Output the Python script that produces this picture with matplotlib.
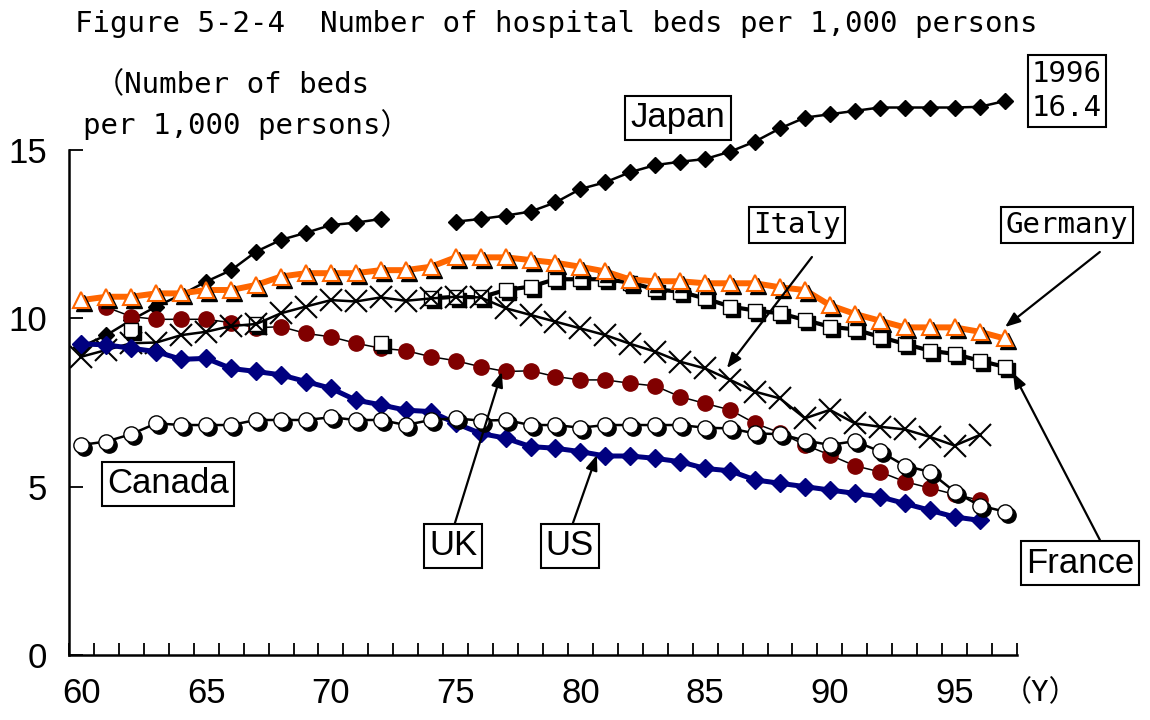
import matplotlib
matplotlib.use("Agg")
import matplotlib.pyplot as plt
import matplotlib.transforms as mtransforms
import numpy as np

# années 1960 -> 1997 (axe par catégories)
years = np.arange(60, 98)

nan = np.nan
japan = [9.16, 9.5, 9.95, 10.35, 10.7, 11.09, 11.43, 11.98, 12.33, 12.54, 12.77, 12.84, 12.95,
         nan, nan,
         12.87, 12.95, 13.05, 13.17, 13.44, 13.84, 14.04, 14.34, 14.55, 14.65, 14.73, 14.95,
         15.25, 15.64, 15.96, 16.06, 16.16, 16.26, 16.26, 16.26, 16.26, 16.28, 16.45]
germany = [10.54, 10.64, 10.64, 10.74, 10.74, 10.84, 10.84, 10.99, 11.24, 11.34, 11.34, 11.34, 11.43,
           11.43, 11.53, 11.81, 11.81, 11.81, 11.73, 11.65, 11.53, 11.39, 11.15, 11.1, 11.1, 11.04,
           11.04, 11.04, 10.92, 10.84, 10.39, 10.13, 9.93, 9.73, 9.73, 9.73, 9.6, 9.4]
france = [nan, nan, 9.65, nan, nan, nan, nan, 9.83, nan, nan, nan, nan, 9.26,
          nan, 10.59, 10.64, 10.62, 10.84, 10.94, 11.16, 11.16, 11.16, 11.06, 10.86, 10.79, 10.59,
          10.35, 10.23, 10.15, 9.95, 9.75, 9.67, 9.45, 9.24, 9.04, 8.94, 8.74, 8.56]
italy = [8.86, 9.06, 9.26, 9.28, 9.5, 9.6, 9.77, 9.83, 10.15, 10.35, 10.54, 10.5, 10.62,
         10.52, 10.59, 10.64, 10.62, 10.3, 10.1, 9.9, 9.7, 9.5, 9.24, 9.01, 8.71, 8.51,
         8.17, 7.82, 7.62, 7.03, 7.28, 6.88, 6.78, 6.7, 6.48, 6.22, 6.53, nan]
uk = [nan, 10.33, 10.05, 9.97, 9.97, 9.97, 9.87, 9.72, 9.75, 9.55, 9.45, 9.26, 9.11,
      9.04, 8.86, 8.74, 8.56, 8.42, 8.44, 8.27, 8.17, 8.17, 8.07, 7.99, 7.67, 7.47,
      7.28, 6.88, 6.6, 6.24, 5.94, 5.62, 5.44, 5.15, 4.96, 4.77, 4.6, nan]
canada = [6.24, 6.34, 6.56, 6.88, 6.83, 6.83, 6.83, 6.98, 6.98, 6.98, 7.06, 6.98, 6.98,
          6.83, 6.98, 7.03, 6.96, 6.98, 6.83, 6.83, 6.75, 6.83, 6.83, 6.83, 6.83, 6.75,
          6.73, 6.58, 6.56, 6.37, 6.24, 6.35, 6.05, 5.62, 5.44, 4.85, 4.44, 4.26]
us = [9.24, 9.21, 9.11, 9.01, 8.78, 8.81, 8.51, 8.42, 8.32, 8.12, 7.92, 7.57, 7.43,
      7.27, 7.23, 6.88, 6.58, 6.44, 6.19, 6.14, 6.04, 5.91, 5.91, 5.84, 5.74, 5.54,
      5.47, 5.2, 5.1, 5.0, 4.9, 4.8, 4.7, 4.5, 4.3, 4.1, 4.0, nan]

x_ticks = [60, 65, 70, 75, 80, 85, 90, 95]
y_ticks = [0, 5, 10, 15]

mono = ['DejaVu Sans Mono', 'Noto Sans CJK JP']
narrow = ['Liberation Sans Narrow', 'Liberation Sans']

fig = plt.figure(figsize=(11.5, 7.2), dpi=100)
ax = fig.add_axes([69 / 1150, 65 / 720, 948 / 1150, 572.4 / 720])
ax.set_xlim(59.5, 97.5)
ax.set_ylim(0, 17)

shadow = mtransforms.offset_copy(ax.transData, fig=fig, x=3, y=-3, units='dots')

# France : points isolés avant 1974, série annuelle ensuite
fr = np.array(france, dtype=float)
fr_early = years < 73
fr_late = years >= 74
fx = years[~np.isnan(fr)]
fy = fr[~np.isnan(fr)]

# Japon
ax.plot(years, japan, color='black', lw=1.8, marker='D', ms=8, mfc='black', mec='black', zorder=2)
# Royaume-Uni
ax.plot(years, uk, color='black', lw=1.1, marker='o', ms=11, mfc='#800000', mec='#800000', zorder=3)
# France
ax.plot(years[fr_late], fr[fr_late], color='black', lw=3, zorder=4)
ax.plot(fx, fy, ls='none', marker='s', ms=10, mfc='black', mec='black', transform=shadow, zorder=4)
ax.plot(fx, fy, ls='none', marker='s', ms=10, mfc='white', mec='black', mew=1, zorder=4)
# Italie
ax.plot(years, italy, color='black', lw=1.8, marker='x', ms=16, mew=1.5, mec='black', zorder=5)
# Etats-Unis
ax.plot(years, us, color='#000080', lw=3.6, marker='D', ms=9, mfc='#000080', mec='#000080', zorder=6)
# Canada
ax.plot(years, canada, color='black', lw=1.8, zorder=7)
ax.plot(years, canada, ls='none', marker='o', ms=11, mfc='black', mec='black', transform=shadow, zorder=7)
ax.plot(years, canada, ls='none', marker='o', ms=11, mfc='white', mec='black', mew=1, zorder=7)
# Allemagne
ax.plot(years, germany, color='#FF6600', lw=4.3, zorder=8)
ax.plot(years, germany, ls='none', marker='^', ms=12, mfc='black', mec='black', transform=shadow, zorder=8)
ax.plot(years, germany, ls='none', marker='^', ms=12, mfc='white', mec='#FF6600', mew=1.5, zorder=8)

# axes
for s in ['top', 'right']:
    ax.spines[s].set_visible(False)
ax.spines['left'].set_bounds(0, 15)
ax.spines['left'].set_linewidth(1.8)
ax.spines['bottom'].set_linewidth(1.8)
ax.set_xticks(x_ticks)
ax.set_xticklabels([str(t) for t in x_ticks], family=narrow, fontsize=25)
ax.set_xticks(np.arange(59.5, 98, 1), minor=True)
ax.tick_params(axis='x', which='major', length=0, pad=16)
ax.tick_params(axis='x', which='minor', direction='in', length=9, width=1.3)
ax.set_yticks(y_ticks)
ax.set_yticklabels([str(t) for t in y_ticks], family=narrow, fontsize=25)
ax.tick_params(axis='y', direction='in', length=10, width=1.3, pad=16)

# titre et libellés
fig.text(75 / 1150, 1 - 24 / 720, 'Figure 5-2-4  Number of hospital beds per 1,000 persons',
         family=mono, fontsize=21, ha='left', va='center')
fig.text(95 / 1150, 1 - 85 / 720, '（Number of beds', family=mono, fontsize=21, ha='left', va='center')
fig.text(83 / 1150, 1 - 125 / 720, 'per 1,000 persons）', family=mono, fontsize=21, ha='left', va='center')
fig.text(1003 / 1150, 1 - 693 / 720, '（Y）', family=mono, fontsize=21, ha='left', va='center')

box = dict(boxstyle='square,pad=0.15', fc='white', ec='black', lw=1.5)
ax.text(83.91, 15.95, 'Japan', family=narrow, fontsize=25, ha='center', va='center', bbox=box, zorder=10)
ax.text(99.5, 16.75, '1996\n16.4', family=mono, fontsize=21, ha='center', va='center',
        linespacing=1.3, bbox=box, zorder=10, clip_on=False)
ax.text(88.68, 12.77, 'Italy', family=mono, fontsize=21, ha='center', va='center', bbox=box, zorder=10)
ax.text(99.5, 12.77, 'Germany', family=mono, fontsize=21, ha='center', va='center', bbox=box,
        zorder=10, clip_on=False)
ax.text(100.02, 2.73, 'France', family=narrow, fontsize=25, ha='center', va='center', bbox=box,
        zorder=10, clip_on=False)
ax.text(63.47, 5.08, 'Canada', family=narrow, fontsize=25, ha='center', va='center', bbox=box, zorder=10)
ax.text(74.89, 3.24, 'UK', family=narrow, fontsize=25, ha='center', va='center', bbox=box, zorder=10)
ax.text(79.58, 3.24, 'US', family=narrow, fontsize=25, ha='center', va='center', bbox=box, zorder=10)

arrow = dict(arrowstyle='-|>,head_length=0.9,head_width=0.35', lw=1.6, color='black',
             shrinkA=0, shrinkB=0)
ax.annotate('', xy=(85.87, 8.52), xytext=(89.28, 11.82), arrowprops=arrow, zorder=11)
ax.annotate('', xy=(97.02, 9.74), xytext=(100.82, 11.97), arrowprops=arrow, zorder=11,
            annotation_clip=False)
ax.annotate('', xy=(97.34, 8.38), xytext=(100.82, 3.42), arrowprops=arrow, zorder=11,
            annotation_clip=False)
ax.annotate('', xy=(76.85, 8.41), xytext=(74.97, 3.92), arrowprops=arrow, zorder=11)
ax.annotate('', xy=(80.66, 5.94), xytext=(79.70, 3.92), arrowprops=arrow, zorder=11)

fig.savefig('out.png', dpi=100)
